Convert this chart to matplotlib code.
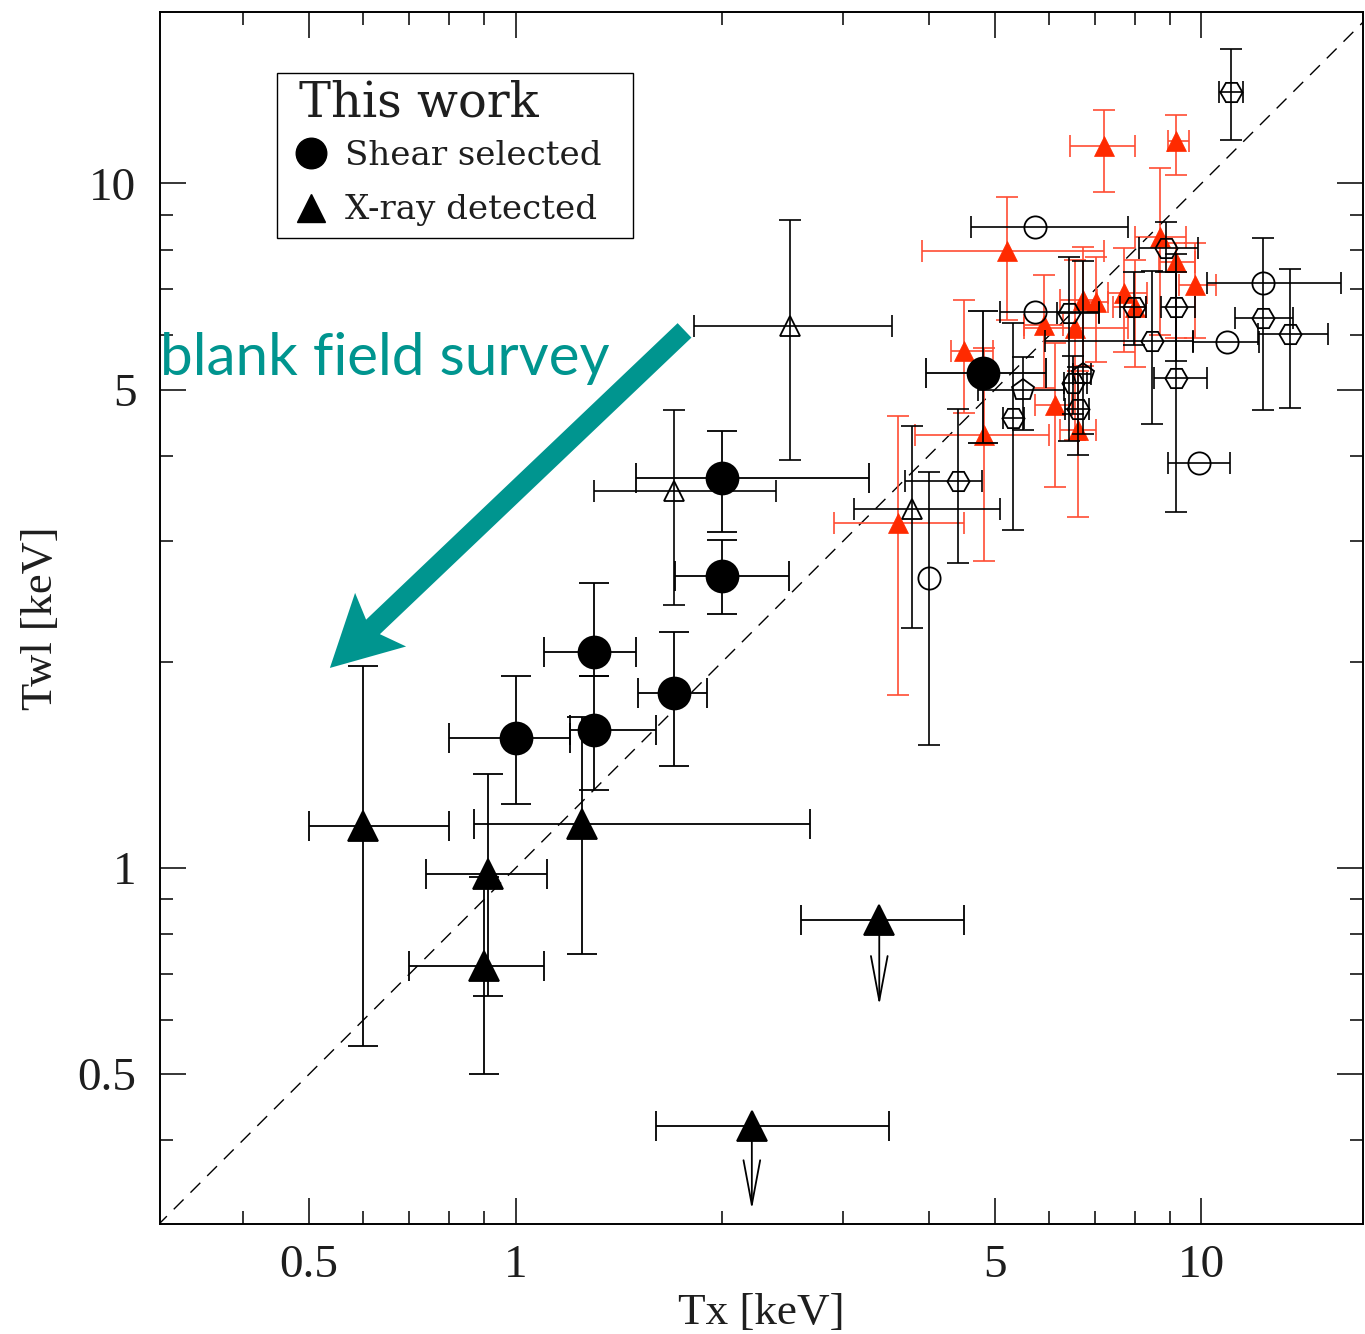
import numpy as np
import matplotlib
matplotlib.use("Agg")
import matplotlib.pyplot as plt
from matplotlib.patches import FancyArrow, Rectangle
from matplotlib.ticker import FixedLocator, FixedFormatter, NullFormatter

# ---------------- data (Tx, Twl in keV; lo/hi are error-bar bounds) ----------------
# This work: shear selected (filled circles)
ss_tx    = [1.00, 1.30, 1.30, 1.70, 2.00, 2.00, 4.80]
ss_tx_lo = [0.80, 1.20, 1.10, 1.51, 1.71, 1.50, 3.97]
ss_tx_hi = [1.20, 1.60, 1.50, 1.90, 2.50, 3.28, 5.93]
ss_tw    = [1.55, 1.59, 2.07, 1.80, 2.67, 3.71, 5.28]
ss_tw_lo = [1.24, 1.30, 1.91, 1.41, 2.35, 3.10, 4.17]
ss_tw_hi = [1.91, 1.91, 2.61, 2.21, 3.01, 4.35, 6.52]

# This work: X-ray detected (filled triangles); last two are upper limits
xd_tx    = [0.60, 0.91, 0.90, 1.25, 3.39, 2.21]
xd_tx_lo = [0.50, 0.74, 0.70, 0.87, 2.61, 1.60]
xd_tx_hi = [0.80, 1.11, 1.10, 2.69, 4.51, 3.50]
xd_tw    = [1.15, 0.98, 0.72, 1.16, 0.84, 0.42]
xd_tw_lo = [0.55, 0.65, 0.50, 0.75, np.nan, np.nan]
xd_tw_hi = [1.97, 1.37, 0.97, 1.66, np.nan, np.nan]
xd_ul_to = [np.nan, np.nan, np.nan, np.nan, 0.63, 0.317]   # upper-limit arrow ends

# Literature: open triangles
ot_tx    = [2.51, 1.70, 3.79]
ot_tx_lo = [1.82, 1.30, 3.11]
ot_tx_hi = [3.54, 2.40, 5.08]
ot_tw    = [6.20, 3.56, 3.35]
ot_tw_lo = [3.94, 2.42, 2.24]
ot_tw_hi = [8.83, 4.66, 4.43]

# Literature: open circles
oc_tx    = [4.01, 5.71, 5.71, 12.31, 10.91, 9.93]
oc_tx_lo = [np.nan, 4.62, 5.09, 10.2, 9.73, 8.93]
oc_tx_hi = [np.nan, 7.81, 7.10, 16.0, 12.15, 11.0]
oc_tw    = [2.65, 8.65, 6.48, 7.15, 5.86, 3.90]
oc_tw_lo = [1.51, np.nan, np.nan, 4.66, np.nan, np.nan]
oc_tw_hi = [3.79, np.nan, np.nan, 8.32, np.nan, np.nan]

# Literature: open hexagons
hx_tx    = [4.41, 5.32, 6.60, 6.49, 6.40, 7.96, 8.48, 9.17, 9.17, 8.89, 11.06, 12.31, 13.44]
hx_tx_lo = [3.70, 5.13, 6.33, 6.30, 6.16, 7.60, 5.92, 8.52, 8.74, 8.11, 10.6, 11.2, 12.1]
hx_tx_hi = [4.79, 5.52, 6.86, 6.80, 7.10, 8.30, 9.73, 10.2, 9.80, 9.90, 11.5, 13.6, 15.3]
hx_tw    = [3.67, 4.54, 4.68, 5.11, 6.46, 6.61, 5.88, 5.19, 6.59, 8.04, 13.58, 6.37, 6.02]
hx_tw_lo = [2.79, 3.12, 4.01, 4.60, 4.20, 5.81, 4.45, 3.31, 5.50, 7.42, 11.56, np.nan, 4.70]
hx_tw_hi = [4.69, 6.25, 5.39, 5.60, 7.80, 7.42, 7.46, 7.42, 7.90, 8.77, 15.7, np.nan, 7.50]

# Literature: open pentagons
pg_tx    = [5.50, 6.71]
pg_tx_lo = [4.72, 6.50]
pg_tx_hi = [6.31, 6.90]
pg_tw    = [4.99, 5.26]
pg_tw_lo = [4.36, 4.30]
pg_tw_hi = [5.57, 7.70]

# Literature: red filled triangles
rt_tx    = [3.61, 4.82, 4.50, 5.21, 5.90, 6.11, 6.53, 6.60, 6.71, 7.01, 7.72, 7.99, 8.71, 9.19, 9.80, 7.20, 9.19]
rt_tx_lo = [2.91, 3.82, 4.31, 3.91, 5.52, 5.71, 5.52, 6.21, 6.21, 6.72, 7.30, 7.44, 8.00, 8.66, 9.27, 6.43, 8.93]
rt_tx_hi = [4.51, 6.00, 4.97, 7.21, 6.28, 6.48, 7.81, 7.01, 7.05, 7.30, 8.33, 8.29, 9.50, 9.79, 10.5, 8.00, 9.60]
rt_tw    = [3.19, 4.29, 5.70, 7.98, 6.22, 4.74, 6.14, 4.36, 6.75, 6.71, 6.91, 6.59, 8.34, 7.67, 7.10, 11.36, 11.55]
rt_tw_lo = [1.79, 2.81, 4.62, 6.31, 5.02, 3.60, 4.22, 3.26, 5.42, 5.49, 5.67, 5.39, 6.00, 5.94, 5.94, 9.70, 10.3]
rt_tw_hi = [4.58, 5.75, 6.75, 9.54, 7.34, 5.85, 7.74, 5.33, 8.07, 7.80, 8.04, 7.74, 10.55, 8.18, 8.18, 12.8, 12.6]

x_major = [0.5, 1, 5, 10]
x_major_labels = ["0.5", "1", "5", "10"]
minor_vals = [0.4, 0.6, 0.7, 0.8, 0.9, 2, 3, 4, 6, 7, 8, 9]

legend_title = "This work"
legend_labels = ["Shear selected", "X-ray detected"]
legend_markers = ["o", "^"]

TEAL = "#00958f"
RED = "#ff2a00"
RED_BAR = "#ff4d33"
TXT = "#1e1e1e"

# ---------------- figure ----------------
fig = plt.figure(figsize=(13.65, 13.34), dpi=100)
ax = fig.add_axes([160 / 1365, 110 / 1334, 1203 / 1365, 1212 / 1334])
ax.set_xscale("log")
ax.set_yscale("log")
ax.set_xlim(0.303, 17.2)
ax.set_ylim(0.302, 17.8)

SERIF = ["Liberation Serif", "DejaVu Serif"]


def draw(tx, lo_x, hi_x, tw, lo_y, hi_y, marker, ms, mfc, mec, ecol, cap, z, mew=1.3, elw=1.2):
    tx = np.asarray(tx, float); tw = np.asarray(tw, float)
    lo_x = np.asarray(lo_x, float); hi_x = np.asarray(hi_x, float)
    lo_y = np.asarray(lo_y, float); hi_y = np.asarray(hi_y, float)
    mx = np.isfinite(lo_x)
    if mx.any():
        ax.errorbar(tx[mx], tw[mx], xerr=[tx[mx] - lo_x[mx], hi_x[mx] - tx[mx]], fmt="none",
                    ecolor=ecol, elinewidth=elw, capsize=cap, capthick=elw, zorder=z)
    my = np.isfinite(lo_y)
    if my.any():
        ax.errorbar(tx[my], tw[my], yerr=[tw[my] - lo_y[my], hi_y[my] - tw[my]], fmt="none",
                    ecolor=ecol, elinewidth=elw, capsize=cap, capthick=elw, zorder=z)
    ax.plot(tx, tw, ls="none", marker=marker, ms=ms, mfc=mfc, mec=mec, mew=mew, zorder=z + 0.5)


# y = x line
lim = np.array([0.3, 20.0])
ax.plot(lim, lim, color="k", lw=1.0, dashes=(10, 7), zorder=1)

draw(rt_tx, rt_tx_lo, rt_tx_hi, rt_tw, rt_tw_lo, rt_tw_hi, "^", 14.5, RED, RED, RED_BAR, 8, 3, mew=0.5)
draw(hx_tx, hx_tx_lo, hx_tx_hi, hx_tw, hx_tw_lo, hx_tw_hi, "H", 16, "none", "k", "k", 8, 4)
draw(pg_tx, pg_tx_lo, pg_tx_hi, pg_tw, pg_tw_lo, pg_tw_hi, "p", 16, "none", "k", "k", 8, 4)
draw(oc_tx, oc_tx_lo, oc_tx_hi, oc_tw, oc_tw_lo, oc_tw_hi, "o", 16, "none", "k", "k", 8, 4)
draw(ot_tx, ot_tx_lo, ot_tx_hi, ot_tw, ot_tw_lo, ot_tw_hi, "^", 14, "none", "k", "k", 8, 4)
draw(ss_tx, ss_tx_lo, ss_tx_hi, ss_tw, ss_tw_lo, ss_tw_hi, "o", 23, "k", "k", "k", 11, 5, elw=1.3)
draw(xd_tx, xd_tx_lo, xd_tx_hi, xd_tw, xd_tw_lo, xd_tw_hi, "^", 21, "k", "k", "k", 11, 5, elw=1.3)

# upper-limit arrows
for x0, y0, y1 in zip(xd_tx, xd_tw, xd_ul_to):
    if np.isfinite(y1):
        ax.annotate("", xy=(x0, y1), xytext=(x0, y0),
                    arrowprops=dict(arrowstyle="->,head_length=1.6,head_width=0.3",
                                    mutation_scale=20, color="k", lw=1.3,
                                    shrinkA=0, shrinkB=0), zorder=5)

# ---------------- axes styling ----------------
ax.xaxis.set_major_locator(FixedLocator(x_major))
ax.xaxis.set_major_formatter(FixedFormatter(x_major_labels))
ax.yaxis.set_major_locator(FixedLocator(x_major))
ax.yaxis.set_major_formatter(FixedFormatter(x_major_labels))
ax.xaxis.set_minor_locator(FixedLocator(minor_vals))
ax.yaxis.set_minor_locator(FixedLocator(minor_vals))
ax.xaxis.set_minor_formatter(NullFormatter())
ax.yaxis.set_minor_formatter(NullFormatter())
ax.tick_params(which="both", direction="in", top=True, right=True, width=1.1, color="k")
ax.tick_params(which="major", length=19)
ax.tick_params(which="minor", length=9.5)
ax.tick_params(axis="x", which="major", pad=15)
ax.tick_params(axis="y", which="major", pad=17)
for lab in ax.get_xticklabels() + ax.get_yticklabels():
    lab.set_fontfamily(SERIF)
    lab.set_fontsize(34)
    lab.set_color(TXT)
for sp in ax.spines.values():
    sp.set_linewidth(1.4)

ax.set_xlabel("Tx [keV]", fontsize=32.5, family=SERIF, color=TXT, labelpad=4)
ax.set_ylabel("Twl [keV]", fontsize=32, family=SERIF, color=TXT, labelpad=12)

# ---------------- legend (drawn as a boxed key in axes coordinates) ----------------
LEGF = ["DejaVu Serif"]
ax.add_patch(Rectangle((0.0973, 0.8135), 0.2959, 0.1362, transform=ax.transAxes,
                       facecolor="white", edgecolor="k", lw=1.0, zorder=10))
ax.text(0.1156, 0.9134, legend_title, transform=ax.transAxes, fontsize=34.5, family=LEGF,
        color=TXT, ha="left", va="baseline", zorder=11)
row_y = [0.8837, 0.8383]
row_base = [0.8738, 0.8292]
row_ms = [22, 20]
for mk, lab, yy, yb, ms in zip(legend_markers, legend_labels, row_y, row_base, row_ms):
    ax.plot([0.1255], [yy], transform=ax.transAxes, ls="none", marker=mk, ms=ms,
            mfc="k", mec="k", zorder=11, clip_on=False)
    ax.text(0.1538, yb, lab, transform=ax.transAxes, fontsize=24.5, family=LEGF,
            color=TXT, ha="left", va="baseline", zorder=11)

# ---------------- annotation: blank field survey ----------------
ax.text(0.0, 0.7137, "blank field survey", transform=ax.transAxes, fontsize=42,
        family=["Lato", "DejaVu Sans"], color=TEAL, ha="left", va="center", zorder=8)

fig.canvas.draw()
tail = ax.transData.transform((1.763, 6.10))
tip = ax.transData.transform((0.536, 1.96))
d = tip - tail
arr = FancyArrow(tail[0], tail[1], d[0], d[1], width=20, head_width=74, head_length=70,
                 overhang=0.15, length_includes_head=True, color=TEAL, lw=0,
                 transform=None, zorder=8)
fig.patches.append(arr)
arr.set_figure(fig)

fig.savefig("out.png", dpi=100)
